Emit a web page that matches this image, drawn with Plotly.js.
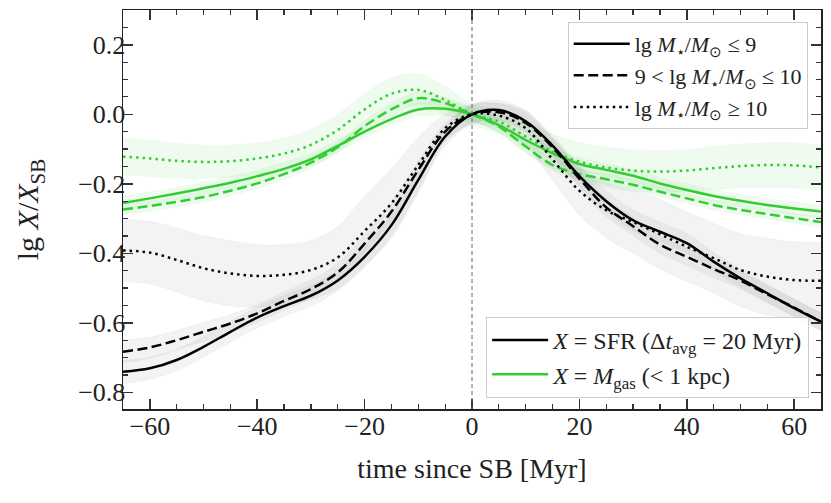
<!DOCTYPE html>
<html>
<head>
<meta charset="utf-8">
<script src="https://cdn.plot.ly/plotly-3.0.1.min.js"></script>
<style>
  html, body { margin: 0; padding: 0; background: #fff; }
  #GRAPH { width: 831px; height: 503px; }
</style>
</head>
<body>
<div id="GRAPH"></div>
<script>
// time since starburst [Myr]
const time = [-65, -60, -55, -50, -45, -40, -35, -30, -25, -20, -15, -10, -5, 0,
  5, 10, 15, 20, 25, 30, 35, 40, 45, 50, 55, 60, 65];

// X = SFR, three stellar mass bins (lg X / X_SB)
const sfrLow = [-0.741, -0.731, -0.707, -0.669, -0.626, -0.585, -0.552, -0.522, -0.478, -0.410, -0.319, -0.189, -0.064, 0.0,
  0.012, -0.020, -0.090, -0.178, -0.250, -0.305, -0.338, -0.371, -0.424, -0.472, -0.515, -0.558, -0.597];
const sfrMid = [-0.683, -0.671, -0.650, -0.626, -0.602, -0.573, -0.537, -0.503, -0.455, -0.372, -0.280, -0.160, -0.050, 0.0,
  0.006, -0.025, -0.095, -0.185, -0.268, -0.322, -0.375, -0.410, -0.445, -0.478, -0.518, -0.556, -0.597];
const sfrHigh = [-0.392, -0.398, -0.419, -0.443, -0.458, -0.465, -0.462, -0.448, -0.412, -0.336, -0.256, -0.146, -0.040, 0.0,
  -0.004, -0.040, -0.130, -0.220, -0.276, -0.310, -0.345, -0.381, -0.414, -0.448, -0.467, -0.477, -0.479];

// X = M_gas (< 1 kpc)
const gasLow = [-0.255, -0.242, -0.228, -0.213, -0.197, -0.178, -0.157, -0.130, -0.091, -0.050, -0.014, 0.014, 0.016, 0.0,
  -0.031, -0.074, -0.112, -0.143, -0.160, -0.177, -0.199, -0.218, -0.235, -0.249, -0.261, -0.271, -0.280];
const gasMid = [-0.274, -0.264, -0.252, -0.238, -0.220, -0.199, -0.172, -0.139, -0.095, -0.034, 0.014, 0.046, 0.032, 0.0,
  -0.035, -0.093, -0.146, -0.172, -0.187, -0.203, -0.223, -0.242, -0.261, -0.275, -0.287, -0.299, -0.310];
const gasHigh = [-0.122, -0.127, -0.134, -0.137, -0.135, -0.127, -0.113, -0.088, -0.045, 0.014, 0.059, 0.070, 0.041, 0.0,
  -0.021, -0.064, -0.107, -0.136, -0.153, -0.162, -0.165, -0.162, -0.155, -0.149, -0.146, -0.147, -0.153];

// half widths of the shaded bands
const sfrLowErr = [0.033, 0.032, 0.031, 0.030, 0.030, 0.030, 0.030, 0.030, 0.030, 0.030, 0.030, 0.030, 0.028, 0.028,
  0.028, 0.030, 0.030, 0.030, 0.030, 0.030, 0.028, 0.028, 0.027, 0.026, 0.025, 0.025, 0.025];
const sfrMidErr = [0.033, 0.030, 0.028, 0.027, 0.026, 0.026, 0.026, 0.026, 0.026, 0.026, 0.026, 0.026, 0.025, 0.025,
  0.025, 0.026, 0.026, 0.026, 0.026, 0.026, 0.025, 0.025, 0.025, 0.025, 0.025, 0.025, 0.025];
const sfrHighErr = [0.090, 0.090, 0.092, 0.094, 0.094, 0.090, 0.087, 0.085, 0.090, 0.100, 0.100, 0.080, 0.040, 0.030,
  0.035, 0.050, 0.060, 0.070, 0.080, 0.090, 0.100, 0.100, 0.100, 0.105, 0.110, 0.110, 0.110];
const gasLowErr = [0.018, 0.018, 0.018, 0.018, 0.018, 0.018, 0.018, 0.018, 0.018, 0.018, 0.020, 0.020, 0.020, 0.020,
  0.020, 0.020, 0.018, 0.018, 0.018, 0.018, 0.018, 0.018, 0.018, 0.018, 0.018, 0.018, 0.018];
const gasMidErr = [0.015, 0.015, 0.015, 0.015, 0.015, 0.015, 0.015, 0.015, 0.015, 0.016, 0.018, 0.018, 0.018, 0.018,
  0.018, 0.018, 0.016, 0.015, 0.015, 0.015, 0.015, 0.015, 0.015, 0.015, 0.015, 0.015, 0.015];
const gasHighErr = [0.053, 0.052, 0.050, 0.048, 0.046, 0.045, 0.045, 0.045, 0.045, 0.046, 0.046, 0.046, 0.040, 0.030,
  0.035, 0.045, 0.050, 0.055, 0.058, 0.060, 0.060, 0.060, 0.062, 0.063, 0.064, 0.065, 0.065];

// legend labels
const massLabels = [
  'lg <i>M</i><sub>⋆</sub>/<i>M</i><sub>⊙</sub> ≤ 9',
  '9 &lt; lg <i>M</i><sub>⋆</sub>/<i>M</i><sub>⊙</sub> ≤ 10',
  'lg <i>M</i><sub>⋆</sub>/<i>M</i><sub>⊙</sub> ≥ 10'
];
const quantityLabels = [
  '<i>X</i> = SFR (Δ<i>t</i><sub>avg</sub> = 20 Myr)',
  '<i>X</i> = <i>M</i><sub>gas</sub> (&lt; 1 kpc)'
];

const BLACK = 'rgb(0, 0, 0)';
const GREEN = 'rgb(50, 205, 50)';
const GREY_FILL = 'rgba(120, 120, 120, 0.09)';
const GREEN_FILL = 'rgba(50, 205, 50, 0.08)';
const DASHES = ['solid', '10px,4.5px', '2.5px,4px'];
const FONT = 'Liberation Serif, Times New Roman, serif';

function CreateBand(ys, errs, fillcolor) {
  var upper = ys.map(function (v, i) { return v + errs[i]; });
  var lower = ys.map(function (v, i) { return v - errs[i]; });
  return [{
    x: time, y: upper, mode: 'lines', hoverinfo: 'skip', showlegend: false,
    line: { width: 0.6, color: fillcolor, shape: 'spline' }
  }, {
    x: time, y: lower, mode: 'lines', hoverinfo: 'skip', showlegend: false,
    fill: 'tonexty', fillcolor: fillcolor,
    line: { width: 0.6, color: fillcolor, shape: 'spline' }
  }];
}

function CreateLine(ys, RGBcolor, dash) {
  return {
    x: time, y: ys, mode: 'lines', showlegend: false,
    line: { color: RGBcolor, width: 2.5, dash: dash, shape: 'spline', smoothing: 1 }
  };
}

function CreateLegendEntry(name, RGBcolor, dash, legend) {
  return {
    x: [null], y: [null], mode: 'lines', name: name, legend: legend,
    line: { color: RGBcolor, width: 2.5, dash: dash }
  };
}

var traces = [];
traces = traces.concat(CreateBand(gasHigh, gasHighErr, GREEN_FILL));
traces = traces.concat(CreateBand(gasMid, gasMidErr, GREEN_FILL));
traces = traces.concat(CreateBand(gasLow, gasLowErr, GREEN_FILL));
traces = traces.concat(CreateBand(sfrHigh, sfrHighErr, GREY_FILL));
traces = traces.concat(CreateBand(sfrMid, sfrMidErr, GREY_FILL));
traces = traces.concat(CreateBand(sfrLow, sfrLowErr, GREY_FILL));

traces.push(CreateLine(gasLow, GREEN, DASHES[0]));
traces.push(CreateLine(gasMid, GREEN, DASHES[1]));
traces.push(CreateLine(gasHigh, GREEN, DASHES[2]));
traces.push(CreateLine(sfrLow, BLACK, DASHES[0]));
traces.push(CreateLine(sfrMid, BLACK, DASHES[1]));
traces.push(CreateLine(sfrHigh, BLACK, DASHES[2]));

for (var i = 0; i < massLabels.length; i++) {
  traces.push(CreateLegendEntry(massLabels[i], BLACK, DASHES[i], 'legend'));
}
traces.push(CreateLegendEntry(quantityLabels[0], BLACK, 'solid', 'legend2'));
traces.push(CreateLegendEntry(quantityLabels[1], GREEN, 'solid', 'legend2'));

var axisCommon = {
  ticks: 'inside', ticklen: 10, tickwidth: 1.5, tickcolor: '#333',
  showline: true, linecolor: '#222', linewidth: 1.5, mirror: 'ticks',
  showgrid: false, zeroline: false,
  tickfont: { family: FONT, size: 26, color: '#222' }
};

var layout = {
  width: 831, height: 503,
  margin: { l: 123, r: 10, t: 10, b: 94 },
  paper_bgcolor: '#fff', plot_bgcolor: '#fff',
  font: { family: FONT, color: '#222' },
  xaxis: Object.assign({}, axisCommon, {
    range: [-65, 65], tick0: 0, dtick: 20, ticklabelstandoff: -7,
    minor: { dtick: 5, ticks: 'inside', ticklen: 5, tickwidth: 1.2, tickcolor: '#333' },
    title: { text: 'time since SB [Myr]', font: { family: FONT, size: 28, color: '#222' }, standoff: 18 }
  }),
  yaxis: Object.assign({}, axisCommon, {
    range: [-0.848, 0.3], tick0: 0, dtick: 0.2, tickformat: '.1f', ticklabelstandoff: -9,
    minor: { dtick: 0.05, ticks: 'inside', ticklen: 5, tickwidth: 1.2, tickcolor: '#333' },
    title: { text: 'lg <i>X</i>/<i>X</i><sub>SB</sub>', font: { family: FONT, size: 30, color: '#222' }, standoff: 30 }
  }),
  shapes: [{
    type: 'line', xref: 'x', yref: 'paper', x0: 0, x1: 0, y0: 0, y1: 1,
    line: { color: '#666', width: 1, dash: '4px,3px' }
  }],
  legend: {
    x: 0.981, y: 0.97, xanchor: 'right', yanchor: 'top', traceorder: 'normal',
    bgcolor: 'rgba(255,255,255,0.85)', bordercolor: '#ccc', borderwidth: 1,
    font: { family: FONT, size: 22, color: '#222' }, itemwidth: 56
  },
  legend2: {
    x: 0.983, y: 0.028, xanchor: 'right', yanchor: 'bottom', traceorder: 'normal',
    bgcolor: 'rgba(255,255,255,0.85)', bordercolor: '#ccc', borderwidth: 1,
    font: { family: FONT, size: 24, color: '#222' }, itemwidth: 56
  },
  showlegend: true
};

Plotly.newPlot('GRAPH', traces, layout, { displayModeBar: false, staticPlot: true });
</script>
</body>
</html>
